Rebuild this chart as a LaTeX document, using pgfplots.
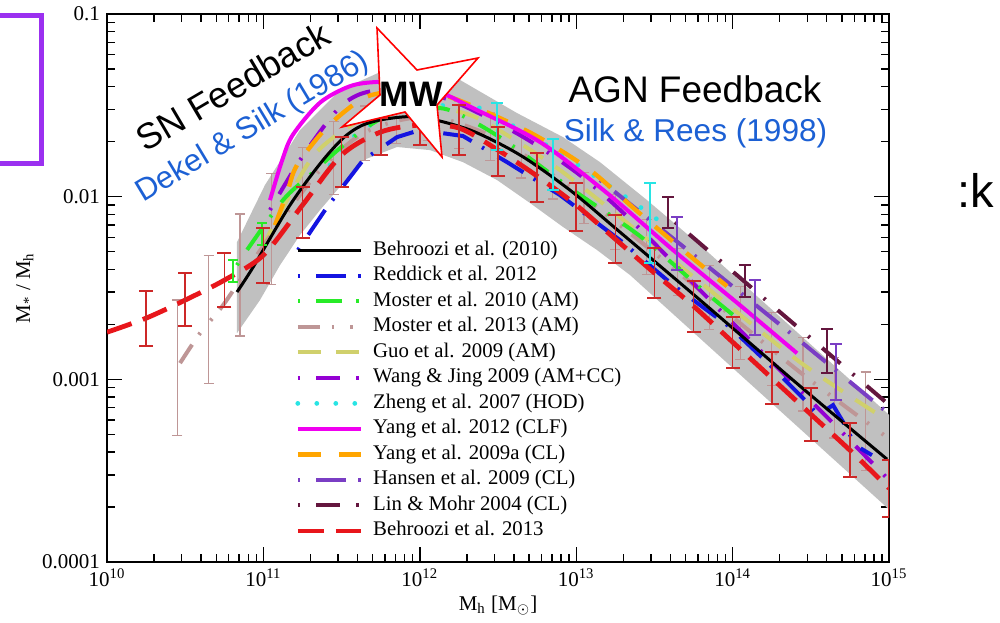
\documentclass[border=0pt]{standalone}
\usepackage{fontspec}
\setmainfont{Liberation Serif}
\newfontfamily\arialfont{Liberation Sans}
\usepackage{pgfplots}
\pgfplotsset{compat=1.18}

\definecolor{cRed}{RGB}{232,22,27}
\definecolor{cErr}{RGB}{205,40,40}
\definecolor{cBlue}{RGB}{20,20,225}
\definecolor{cGreen}{RGB}{40,235,40}
\definecolor{cRosy}{RGB}{190,150,150}
\definecolor{cKhaki}{RGB}{208,208,108}
\definecolor{cWang}{RGB}{148,0,211}
\definecolor{cCyan}{RGB}{40,228,228}
\definecolor{cMag}{RGB}{240,0,240}
\definecolor{cOrange}{RGB}{255,165,0}
\definecolor{cHansen}{RGB}{122,62,196}
\definecolor{cLin}{RGB}{100,22,62}
\definecolor{cBand}{RGB}{192,192,192}
\definecolor{cNote}{RGB}{28,96,212}
\definecolor{cBox}{RGB}{155,48,240}

% line styles of the individual relations
\tikzset{
  sBeh10/.style={black, line width=1.5pt},
  sRed12/.style={cBlue, line width=2pt, dash pattern=on 1.2pt off 8pt on 15pt off 6pt},
  sMos10/.style={cGreen, line width=2pt, dash pattern=on 1.2pt off 8pt on 13pt off 7pt},
  sMos13/.style={cRosy, line width=2pt, dash pattern=on 11pt off 6pt on 1.2pt off 8pt on 1.2pt off 6pt},
  sGuo/.style={cKhaki, line width=2pt, dash pattern=on 11.5pt off 7.5pt},
  sWang/.style={cWang, line width=2pt, dash pattern=on 1.2pt off 8pt on 12pt off 8pt},
  sZheng/.style={cCyan, line width=2.4pt, line cap=round, dash pattern=on 0pt off 9.5pt},
  sYang12/.style={cMag, line width=2pt},
  sYang09/.style={cOrange, line width=2.2pt, dash pattern=on 11.5pt off 9pt},
  sHansen/.style={cHansen, line width=2pt, dash pattern=on 1.2pt off 8pt on 15pt off 6pt},
  sLin/.style={cLin, line width=2pt, dash pattern=on 1.2pt off 8pt on 12pt off 8pt},
  sBeh13/.style={cRed, line width=2.4pt, dash pattern=on 13pt off 6pt},
}

% tables hold log10(M_h) and log10(M*/M_h)
\pgfplotsset{
  table/logdata/.style={x expr=10^(\thisrow{lx}), y expr=10^(\thisrow{ly})},
  table/errdata/.style={x expr=10^(\thisrow{lx}),
    y expr=10^((\thisrow{lo}+\thisrow{hi})/2),
    y error plus expr=10^(\thisrow{hi})-10^((\thisrow{lo}+\thisrow{hi})/2),
    y error minus expr=10^((\thisrow{lo}+\thisrow{hi})/2)-10^(\thisrow{lo})},
  errbars/.style n args={3}{draw=none, mark=none, forget plot,
    error bars/.cd, y dir=both, y explicit,
    error bar style={draw=#1, solid, line width=#2},
    error mark options={draw=#1, solid, line width=#2, mark size=#3, rotate=90}},
}

\begin{document}
\begin{tikzpicture}
\useasboundingbox (0,0) rectangle (500pt,311pt);
\begin{axis}[
  at={(53.5pt,30pt)}, anchor=south west,
  scale only axis, width=391pt, height=274pt,
  xmode=log, ymode=log,
  xmin=1e10, xmax=1e15, ymin=1e-4, ymax=1e-1,
  xtick={1e10,1e11,1e12,1e13,1e14,1e15},
  xticklabels={10\textsuperscript{10},10\textsuperscript{11},10\textsuperscript{12},10\textsuperscript{13},10\textsuperscript{14},10\textsuperscript{15}},
  ytick={1e-4,1e-3,1e-2,1e-1},
  yticklabels={0.0001,0.001,0.01,0.1},
  minor xtick={2e10,3e10,4e10,5e10,6e10,7e10,8e10,9e10,
               2e11,3e11,4e11,5e11,6e11,7e11,8e11,9e11,
               2e12,3e12,4e12,5e12,6e12,7e12,8e12,9e12,
               2e13,3e13,4e13,5e13,6e13,7e13,8e13,9e13,
               2e14,3e14,4e14,5e14,6e14,7e14,8e14,9e14},
  minor ytick={2e-4,3e-4,4e-4,5e-4,6e-4,7e-4,8e-4,9e-4,
               2e-3,3e-3,4e-3,5e-3,6e-3,7e-3,8e-3,9e-3,
               2e-2,3e-2,4e-2,5e-2,6e-2,7e-2,8e-2,9e-2},
  tick align=inside, major tick length=7.5pt, minor tick length=4pt,
  every tick/.style={black, line width=0.7pt},
  axis line style={line width=1pt},
  tick label style={font=\fontsize{10.5}{12}\selectfont},
  xlabel={M\textsubscript{h} [M\textsubscript{$\odot$}]},
  ylabel={M\textsubscript{*} / M\textsubscript{h}},
  every axis x label/.style={at={(axis description cs:0.5,-0.08)}, anchor=center, font=\fontsize{10.5}{12}\selectfont},
  every axis y label/.style={at={(axis description cs:-0.105,0.5)}, rotate=90, anchor=center, font=\fontsize{10.5}{12}\selectfont},
  legend style={at={(axis description cs:0.2404,0.5876)}, anchor=north west,
    draw=none, fill=none, inner sep=0pt, row sep=2.75pt, column sep=5pt,
    font=\fontsize{10.4}{12}\selectfont,
    nodes={inner sep=0pt, text height=7.5pt, text depth=2.5pt}},
  legend cell align=left,
  legend image code/.code={\draw[#1] (0pt,0pt) -- (31.5pt,0pt);},
]

% legend in the order of the key
\addlegendimage{sBeh10}  \addlegendentry{Behroozi et al. (2010)}
\addlegendimage{sRed12}  \addlegendentry{Reddick et al. 2012}
\addlegendimage{sMos10}  \addlegendentry{Moster et al. 2010 (AM)}
\addlegendimage{sMos13}  \addlegendentry{Moster et al. 2013 (AM)}
\addlegendimage{sGuo}    \addlegendentry{Guo et al. 2009 (AM)}
\addlegendimage{sWang}   \addlegendentry{Wang \& Jing 2009 (AM+CC)}
\addlegendimage{sZheng}  \addlegendentry{Zheng et al. 2007 (HOD)}
\addlegendimage{sYang12} \addlegendentry{Yang et al. 2012 (CLF)}
\addlegendimage{sYang09} \addlegendentry{Yang et al. 2009a (CL)}
\addlegendimage{sHansen} \addlegendentry{Hansen et al. 2009 (CL)}
\addlegendimage{sLin}    \addlegendentry{Lin \& Mohr 2004 (CL)}
\addlegendimage{sBeh13}  \addlegendentry{Behroozi et al. 2013}

% grey envelope of the relations
\addplot[fill=cBand, draw=none, forget plot] table[logdata] {
lx ly
10.831 -2.249
11.010 -1.936
11.234 -1.635
11.490 -1.416
11.746 -1.318
11.937 -1.296
12.257 -1.361
12.621 -1.542
12.916 -1.674
13.152 -1.811
13.453 -2.019
13.792 -2.265
15.000 -3.194
15.000 -3.712
13.344 -2.429
13.133 -2.292
12.916 -2.166
12.705 -2.035
12.494 -1.909
12.276 -1.811
12.065 -1.745
11.854 -1.728
11.637 -1.800
11.471 -1.964
11.362 -2.073
11.234 -2.210
11.106 -2.375
10.978 -2.566
10.831 -2.747
} -- cycle;

% Moster et al. 2013 uncertainties
\addplot[errbars={cRosy}{0.6pt}{2.5pt}] table[errdata] {
lx lo hi
10.45 -3.306 -2.566
10.65 -3.021 -2.320
10.85 -2.763 -2.095
11.05 -2.479 -1.871
11.25 -2.229 -1.729
11.45 -1.988 -1.588
11.65 -1.803 -1.503
11.85 -1.708 -1.468
12.05 -1.693 -1.453
12.25 -1.738 -1.478
12.45 -1.800 -1.540
12.65 -1.898 -1.638
12.85 -2.013 -1.753
13.05 -2.148 -1.868
13.25 -2.287 -1.987
13.45 -2.424 -2.124
13.65 -2.543 -2.283
13.85 -2.728 -2.378
14.05 -2.893 -2.493
14.25 -3.034 -2.634
14.45 -3.173 -2.773
14.65 -3.321 -2.881
14.85 -3.500 -2.960
};

% Zheng et al. 2007
\addplot[sZheng, smooth, forget plot] table[logdata] {
lx ly
11.426 -1.827
11.573 -1.674
11.746 -1.581
11.982 -1.515
12.212 -1.498
12.340 -1.498
12.788 -1.706
13.299 -1.991
13.568 -2.156
};
% Guo et al. 2009
\addplot[sGuo, smooth, forget plot] table[logdata] {
lx ly
10.991 -2.292
11.042 -2.194
11.279 -1.827
11.426 -1.690
11.682 -1.553
12.001 -1.498
12.321 -1.553
12.558 -1.663
12.896 -1.854
13.280 -2.112
13.792 -2.468
14.431 -2.906
14.987 -3.223
};
% Moster et al. 2013
\addplot[sMos13, smooth, forget plot] table[logdata] {
lx ly
10.467 -2.911
10.595 -2.747
10.742 -2.594
10.914 -2.375
11.106 -2.139
11.362 -1.854
11.618 -1.663
11.873 -1.581
12.129 -1.570
12.513 -1.690
12.896 -1.909
13.280 -2.156
13.792 -2.512
14.431 -2.961
14.987 -3.317
};
% Lin & Mohr 2004
\addplot[sLin, forget plot] table[logdata] {
lx ly
13.632 -2.139
14.303 -2.632
14.987 -3.130
};
% Hansen et al. 2009
\addplot[sHansen, forget plot] table[logdata] {
lx ly
13.152 -1.909
13.728 -2.303
14.386 -2.758
14.987 -3.180
};
% Wang & Jing 2009
\addplot[sWang, smooth, forget plot] table[logdata] {
lx ly
11.042 -2.073
11.234 -1.800
11.471 -1.526
11.637 -1.433
11.873 -1.416
12.193 -1.471
12.641 -1.663
13.024 -1.882
13.363 -2.139
13.792 -2.512
14.239 -2.895
14.642 -3.240
15.000 -3.552
};
% Moster et al. 2010
\addplot[sMos10, smooth, forget plot] table[logdata] {
lx ly
10.831 -2.375
10.895 -2.292
11.125 -2.019
11.298 -1.882
11.490 -1.734
11.682 -1.608
11.854 -1.537
12.129 -1.515
12.302 -1.570
12.558 -1.701
12.980 -1.964
13.408 -2.216
13.811 -2.512
14.060 -2.687
};
% Yang et al. 2009a
\addplot[sYang09, smooth, forget plot] table[logdata] {
lx ly
11.074 -2.156
11.151 -1.980
11.215 -1.827
11.407 -1.619
11.618 -1.471
11.746 -1.433
11.937 -1.416
12.193 -1.455
12.513 -1.570
12.769 -1.679
13.088 -1.854
13.389 -2.079
13.728 -2.325
13.964 -2.490
};
% Yang et al. 2012
\addplot[sYang12, smooth, forget plot] table[logdata] {
lx ly
11.042 -2.019
11.120 -1.800
11.189 -1.660
11.362 -1.485
11.554 -1.395
11.726 -1.372
11.937 -1.378
12.129 -1.427
12.340 -1.515
12.769 -1.701
13.197 -1.980
13.619 -2.292
14.047 -2.594
14.412 -2.857
};
% Reddick et al. 2012
\addplot[sRed12, forget plot] table[logdata] {
lx ly
11.221 -2.292
11.407 -2.057
11.637 -1.800
11.854 -1.674
12.001 -1.635
12.276 -1.668
12.558 -1.811
12.896 -1.991
13.280 -2.238
13.619 -2.484
13.983 -2.714
14.239 -2.922
14.463 -3.114
14.546 -3.196
14.642 -3.141
14.719 -3.251
14.783 -3.360
14.891 -3.415
};
% Behroozi et al. 2010
\addplot[sBeh10, smooth, forget plot] table[logdata] {
lx ly
10.831 -2.522
10.934 -2.386
11.170 -2.046
11.362 -1.820
11.509 -1.680
11.630 -1.610
11.780 -1.575
12.001 -1.564
12.321 -1.635
12.641 -1.772
12.960 -1.964
13.280 -2.194
13.792 -2.566
14.431 -3.037
14.987 -3.437
};
% Behroozi et al. 2013
\addplot[sBeh13, smooth, forget plot] table[logdata] {
lx ly
10.00 -2.742
10.25 -2.665
10.50 -2.566
10.75 -2.457
11.00 -2.320
11.25 -2.046
11.50 -1.772
11.75 -1.646
12.00 -1.608
12.25 -1.624
12.50 -1.745
12.75 -1.887
13.00 -2.046
13.25 -2.232
13.50 -2.418
13.75 -2.599
14.00 -2.796
14.25 -2.993
14.50 -3.191
14.75 -3.388
15.00 -3.596
};

% remaining uncertainties
\addplot[errbars={cGreen}{0.7pt}{2.5pt}] table[errdata] {
lx lo hi
10.806 -2.468 -2.347
10.991 -2.265 -2.145
};
\addplot[errbars={cCyan}{0.8pt}{3pt}] table[errdata] {
lx lo hi
12.494 -1.745 -1.487
12.852 -1.964 -1.685
13.472 -2.364 -1.926
};
\addplot[errbars={cLin}{0.8pt}{3pt}] table[errdata] {
lx lo hi
13.587 -2.172 -2.002
14.079 -2.550 -2.375
14.604 -2.966 -2.725
};
\addplot[errbars={cHansen}{0.8pt}{3pt}] table[errdata] {
lx lo hi
13.645 -2.402 -2.112
14.143 -2.758 -2.457
14.661 -3.114 -2.807
};
\addplot[errbars={cErr}{0.8pt}{3.5pt}] table[errdata] {
lx lo hi
10.25 -2.818 -2.517
10.50 -2.709 -2.418
10.75 -2.605 -2.309
11.00 -2.473 -2.172
11.25 -2.227 -1.947
11.50 -1.947 -1.674
11.75 -1.772 -1.570
12.00 -1.717 -1.581
12.25 -1.772 -1.498
12.50 -1.887 -1.619
12.75 -2.030 -1.761
13.00 -2.188 -1.926
13.25 -2.364 -2.101
13.50 -2.555 -2.282
13.75 -2.742 -2.462
14.00 -2.939 -2.659
14.25 -3.136 -2.851
14.50 -3.338 -3.048
14.75 -3.536 -3.240
15.00 -3.755 -3.443
};
\end{axis}

% feedback annotations
\node[font=\arialfont\fontsize{18}{20}\selectfont, rotate=30.5, anchor=base west, inner sep=0pt] at (72.5pt,234.5pt) {SN Feedback};
\node[font=\arialfont\fontsize{15.5}{18}\selectfont, text=cNote, rotate=31, anchor=base west, inner sep=0pt] at (71.5pt,209.5pt) {Dekel \& Silk (1986)};
\node[font=\arialfont\fontsize{18.5}{20}\selectfont, anchor=base, inner sep=0pt] at (347.5pt,259.5pt) {AGN Feedback};
\node[font=\arialfont\fontsize{15.8}{18}\selectfont, text=cNote, anchor=base, inner sep=0pt] at (347.75pt,240pt) {Silk \& Rees (1998)};

% Milky Way star
\draw[red, line width=0.8pt, fill=white, line join=miter]
  (188.5pt,297pt) -- (208.5pt,276pt) -- (239pt,282pt) -- (218.5pt,258.5pt)
  -- (221pt,232.5pt) -- (202.5pt,255pt) -- (171pt,247.5pt) -- (190pt,263.5pt) -- cycle;
\node[font=\arialfont\bfseries\fontsize{17.7}{20}\selectfont, anchor=base, inner sep=0pt] at (205.5pt,257.5pt) {MW};

% frame and text at the edges
\draw[cBox, line width=2.5pt] (-5pt,303pt) rectangle (20.5pt,229.25pt);
\node[font=\arialfont\fontsize{23.5}{26}\selectfont, anchor=base west, inner sep=0pt] at (478.5pt,207.5pt) {:k};
\end{tikzpicture}
\end{document}
